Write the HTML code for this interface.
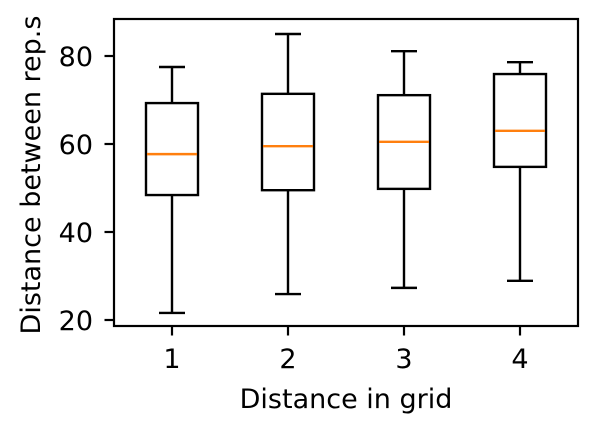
<!DOCTYPE html>
<html><head><meta charset="utf-8"><style>
html,body{margin:0;padding:0;background:#fff;}
svg{display:block;font-family:"DejaVu Sans","Liberation Sans",sans-serif;}
</style></head><body>
<svg id="chart" width="598" height="434" viewBox="0 0 598 434">
<rect x="0" y="0" width="598" height="434" fill="#fff"/>
<g id="boxes"></g>
<rect x="114" y="19" width="464" height="307" fill="none" stroke="#000" stroke-width="2.2"/>
<g id="axes"></g>
<text x="346" y="408" font-size="27" text-anchor="middle">Distance in grid</text>
<text transform="translate(40,175) rotate(-90)" font-size="27" text-anchor="middle">Distance between rep.s</text>
</svg>
<script>
const categories = ["1","2","3","4"];
const whiskerLow = [21.6, 25.9, 27.3, 28.9];
const q1 = [48.4, 49.5, 49.8, 54.8];
const medians = [57.7, 59.5, 60.5, 63.0];
const q3 = [69.3, 71.4, 71.1, 75.9];
const whiskerHigh = [77.5, 85.0, 81.1, 78.6];
const yTicks = [20, 40, 60, 80];

const NS = "http://www.w3.org/2000/svg";
const X0 = 114, X1 = 578, Y0 = 326, Y1 = 19;
function xs(i){ return X0 + (i + 1 - 0.5) * (X1 - X0) / categories.length; }
function ys(v){ return 320 - (v - 20) * 4.4; }
function mk(tag, attrs, parent){ const e = document.createElementNS(NS, tag); for (const k in attrs) e.setAttribute(k, attrs[k]); parent.appendChild(e); return e; }
const boxes = document.getElementById("boxes");
const axes = document.getElementById("axes");
const bw = 52, cw = 26;
categories.forEach((c, i) => {
  const cx = xs(i);
  const g = mk("g", {}, boxes);
  
  
  const st = {stroke: "#000", "stroke-width": 2.4, fill: "none"};
  let e;
  e = mk("line", Object.assign({x1: cx, x2: cx, y1: ys(whiskerLow[i]), y2: ys(q1[i])}, st), g);
  
  
  e = mk("line", Object.assign({x1: cx, x2: cx, y1: ys(q3[i]), y2: ys(whiskerHigh[i])}, st), g);
  
  
  e = mk("line", Object.assign({x1: cx - cw/2, x2: cx + cw/2, y1: ys(whiskerLow[i]), y2: ys(whiskerLow[i])}, st), g);
  
  
  e = mk("line", Object.assign({x1: cx - cw/2, x2: cx + cw/2, y1: ys(whiskerHigh[i]), y2: ys(whiskerHigh[i])}, st), g);
  
  
  e = mk("rect", Object.assign({x: cx - bw/2, y: ys(q3[i]), width: bw, height: ys(q1[i]) - ys(q3[i])}, st), g);
  
  
  e = mk("line", {x1: cx - bw/2 + 1, x2: cx + bw/2 - 1, y1: ys(medians[i]), y2: ys(medians[i]), stroke: "#ff7f0e", "stroke-width": 2.4}, g);
  
  
  e = mk("line", {x1: cx, x2: cx, y1: Y0, y2: Y0 + 9.5, stroke: "#000", "stroke-width": 2.2}, axes);
  
  
  e = mk("text", {x: cx, y: 368, "font-size": 27, "text-anchor": "middle"}, axes);
  e.textContent = c;
  
  
});
yTicks.forEach(t => {
  const y = ys(t);
  let e = mk("line", {x1: X0 - 9.5, x2: X0, y1: y, y2: y, stroke: "#000", "stroke-width": 2.2}, axes);
  
  
  e = mk("text", {x: 93, y: y + 10, "font-size": 27, "text-anchor": "end"}, axes);
  e.textContent = t;
  
  
});
</script>
</body></html>
